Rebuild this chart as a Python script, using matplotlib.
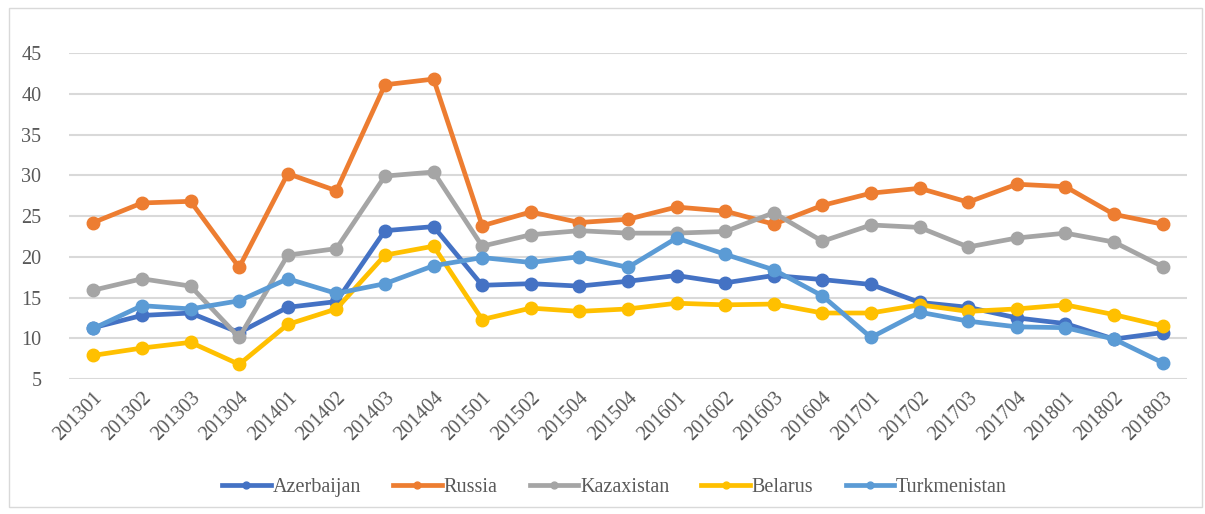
import matplotlib
matplotlib.use("Agg")
import matplotlib.pyplot as plt
from matplotlib.patches import Rectangle

# data
quarters = ["201301", "201302", "201303", "201304", "201401", "201402", "201403", "201404",
            "201501", "201502", "201504", "201504", "201601", "201602", "201603", "201604",
            "201701", "201702", "201703", "201704", "201801", "201802", "201803"]

azerbaijan = [11.3, 12.8, 13.1, 10.7, 13.8, 14.5, 23.2, 23.7, 16.5, 16.7, 16.4, 17.0,
              17.7, 16.8, 17.7, 17.2, 16.6, 14.4, 13.8, 12.5, 11.8, 9.9, 10.7]
russia = [24.2, 26.6, 26.8, 18.7, 30.2, 28.1, 41.1, 41.8, 23.8, 25.5, 24.2, 24.6,
          26.1, 25.6, 24.0, 26.3, 27.8, 28.4, 26.7, 28.9, 28.6, 25.2, 24.0]
kazaxistan = [15.9, 17.3, 16.4, 10.1, 20.2, 21.0, 29.9, 30.4, 21.3, 22.7, 23.2, 22.9,
              22.9, 23.1, 25.4, 21.9, 23.9, 23.6, 21.2, 22.3, 22.9, 21.8, 18.8]
belarus = [7.9, 8.8, 9.5, 6.8, 11.7, 13.6, 20.2, 21.3, 12.3, 13.7, 13.3, 13.6,
           14.3, 14.1, 14.2, 13.1, 13.1, 14.1, 13.3, 13.6, 14.1, 12.9, 11.5]
turkmenistan = [11.2, 14.0, 13.6, 14.6, 17.3, 15.5, 16.7, 18.9, 19.9, 19.3, 20.0, 18.7,
                22.3, 20.3, 18.4, 15.2, 10.1, 13.2, 12.1, 11.4, 11.3, 9.9, 7.0]

series = [
    ("Azerbaijan", azerbaijan, "#4472C4"),
    ("Russia", russia, "#ED7D31"),
    ("Kazaxistan", kazaxistan, "#A5A5A5"),
    ("Belarus", belarus, "#FFC000"),
    ("Turkmenistan", turkmenistan, "#5B9BD5"),
]

plt.rcParams['font.family'] = ['Liberation Serif', 'DejaVu Serif']

fig = plt.figure(figsize=(12.05, 5.14), dpi=100)
ax = fig.add_axes([0.0573, 0.2626, 0.9277, 0.6343])

# outer chart border
fig.patches.append(Rectangle((0.0075, 0.014), 0.99, 0.97, transform=fig.transFigure,
                             fill=False, edgecolor="#D9D9D9", linewidth=1.0))

x = list(range(len(quarters)))
for name, vals, col in series:
    ax.plot(x, vals, '-', color=col, linewidth=3.4, marker='o', markersize=9,
            label=name, solid_joinstyle='round')

ax.set_xlim(-0.5, len(quarters) - 0.5)
ax.set_ylim(5, 45)
ax.set_yticks(range(5, 46, 5))
ax.set_xticks(x)
ax.set_xticklabels(quarters, rotation=45, ha='right', rotation_mode='anchor')

ax.grid(axis='y', color="#D9D9D9", linewidth=1.5)
ax.set_axisbelow(True)
for s in ax.spines.values():
    s.set_visible(False)
ax.tick_params(axis='both', length=0, colors="#595959", labelsize=14.5)
ax.tick_params(axis='y', pad=20)
ax.tick_params(axis='x', pad=7)

fig.legend(loc='center', bbox_to_anchor=(0.51, 0.052), ncol=5, frameon=False,
           fontsize=14.5, handlelength=2.4, handletextpad=0.1, columnspacing=1.6,
           labelcolor="#595959", markerscale=0.55)

fig.savefig("out.png", dpi=100)
